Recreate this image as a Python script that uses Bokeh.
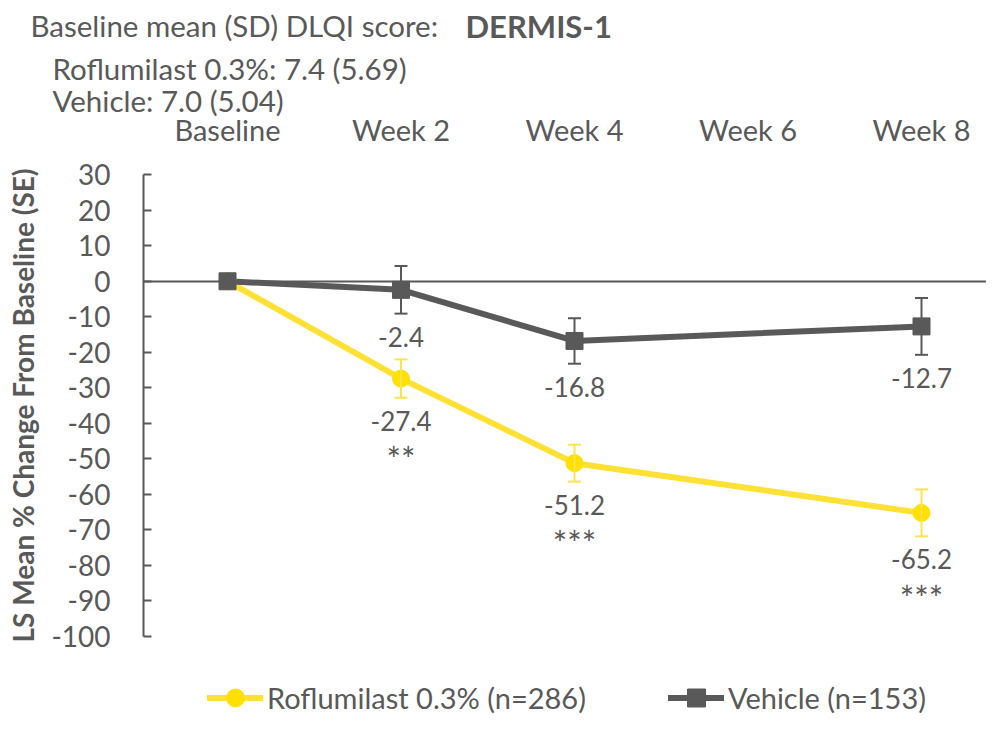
from bokeh.plotting import figure
from bokeh.models import (ColumnDataSource, FixedTicker, Label, Legend,
                          LegendItem, Whisker, TeeHead, Range1d, LinearAxis)
from bokeh.core.properties import value
from bokeh.embed import file_html
from bokeh.resources import INLINE

# ---------------- data ----------------
weeks = [0, 2, 4, 8]
roflumilast = [0.0, -27.4, -51.2, -65.2]
roflumilast_se = [0.0, 5.4, 5.2, 6.6]
roflumilast_sig = ["", "**", "***", "***"]
vehicle = [0.0, -2.4, -16.8, -12.7]
vehicle_se = [0.0, 6.7, 6.4, 8.0]
week_ticks = [0, 2, 4, 6, 8]
week_labels = ["Baseline", "Week 2", "Week 4", "Week 6", "Week 8"]
y_ticks = [30, 20, 10, 0, -10, -20, -30, -40, -50, -60, -70, -80, -90, -100]
y_tick_labels = ["30", "20", "10", "0", "-10", "-20", "-30", "-40", "-50",
                 "-60", "-70", "-80", "-90", "-100"]
y_bounds = (-100, 30)
rof_name = "Roflumilast 0.3% (n=286)"
veh_name = "Vehicle (n=153)"
header_1 = "Baseline mean (SD) DLQI score:"
header_study = "DERMIS-1"
header_2 = "Roflumilast 0.3%: 7.4 (5.69)"
header_3 = "Vehicle: 7.0 (5.04)"
y_title = "LS Mean % Change From Baseline (SE)"

# ---------------- style / layout ----------------
GRAY = "#595959"
YEL = "#FFE000"
YEL_LINE = "#FFE135"
YEL_ERR = "#FFE34D"
FONT = "Lato"

W, H = 986, 715
PX_PER_WEEK = 86.75
PX_PER_UNIT = 3.552
X_BASE = 227            # pixel x of week 0
Y_ZERO = 280.8          # pixel y of value 0
AXIS_PX = 143           # pixel x of the y axis line

X0 = -X_BASE / PX_PER_WEEK
X1 = X0 + W / PX_PER_WEEK
Y1 = Y_ZERO / PX_PER_UNIT
Y0 = Y1 - H / PX_PER_UNIT


def px_x(x):
    return X0 + x / PX_PER_WEEK


def px_y(y):
    return Y1 - y / PX_PER_UNIT


p = figure(width=W, height=H, output_backend="svg", toolbar_location=None,
           x_range=Range1d(X0, X1), y_range=Range1d(Y0, Y1),
           x_axis_location="above", min_border_left=0, min_border_top=0,
           min_border_bottom=0, min_border_right=0)
p.outline_line_color = None
p.grid.visible = False
p.background_fill_color = "white"
p.border_fill_color = "white"

# top category axis
xa = p.xaxis[0]
xa.fixed_location = px_y(156)
xa.ticker = FixedTicker(ticks=week_ticks)
xa.major_label_overrides = {t: l for t, l in zip(week_ticks, week_labels)}
xa.axis_line_color = None
xa.major_tick_line_color = None
xa.minor_tick_line_color = None
xa.major_label_standoff = 4
xa.major_label_text_font = FONT
xa.major_label_text_font_size = "29px"
xa.major_label_text_color = GRAY

# horizontal axis line through 0
x0axis = LinearAxis(fixed_location=0, bounds=(px_x(AXIS_PX), X1),
                    ticker=FixedTicker(ticks=[]), axis_line_color=GRAY,
                    axis_line_width=2, major_tick_line_color=None,
                    minor_tick_line_color=None, major_label_text_font_size="0px")
p.add_layout(x0axis, "below")

# y axis
ya = p.yaxis[0]
ya.fixed_location = px_x(AXIS_PX)
ya.bounds = y_bounds
ya.ticker = FixedTicker(ticks=y_ticks)
ya.major_label_overrides = {t: l for t, l in zip(y_ticks, y_tick_labels)}
ya.axis_line_color = GRAY
ya.axis_line_width = 2
ya.major_tick_line_color = GRAY
ya.major_tick_line_width = 2
ya.major_tick_in = 8
ya.major_tick_out = 0
ya.minor_tick_line_color = None
ya.major_label_standoff = 33
ya.major_label_text_font = FONT
ya.major_label_text_font_size = "28px"
ya.major_label_text_color = GRAY
ya.axis_label = y_title
ya.axis_label_text_font = FONT
ya.axis_label_text_font_size = "28px"
ya.axis_label_text_font_style = "bold"
ya.axis_label_text_color = GRAY
ya.axis_label_standoff = 8

# sources
rof_src = ColumnDataSource(dict(x=weeks, y=roflumilast))
veh_src = ColumnDataSource(dict(x=weeks, y=vehicle))

idx = [i for i, s in enumerate(roflumilast_se) if s > 0]
rof_err = ColumnDataSource(dict(
    x=[weeks[i] for i in idx],
    upper=[roflumilast[i] + roflumilast_se[i] for i in idx],
    lower=[roflumilast[i] - roflumilast_se[i] for i in idx],
    label=["%.1f" % roflumilast[i] for i in idx],
    sig=[roflumilast_sig[i] for i in idx]))
idx_v = [i for i, s in enumerate(vehicle_se) if s > 0]
veh_err = ColumnDataSource(dict(
    x=[weeks[i] for i in idx_v],
    upper=[vehicle[i] + vehicle_se[i] for i in idx_v],
    lower=[vehicle[i] - vehicle_se[i] for i in idx_v],
    label=["%.1f" % vehicle[i] for i in idx_v]))

# lines
rl = p.line("x", "y", source=rof_src, line_color=YEL_LINE, line_width=6,
            line_cap="round")
vl = p.line("x", "y", source=veh_src, line_color=GRAY, line_width=6,
            line_cap="round")

for src, col in ((rof_err, YEL_ERR), (veh_err, GRAY)):
    p.add_layout(Whisker(base="x", upper="upper", lower="lower", source=src,
                         line_color=col, line_width=2, level="glyph",
                         upper_head=TeeHead(size=13, line_color=col, line_width=2),
                         lower_head=TeeHead(size=13, line_color=col, line_width=2)))

rs = p.scatter("x", "y", source=rof_src, marker="circle", size=17,
               fill_color=YEL, line_color=YEL)
vs = p.scatter("x", "y", source=veh_src, marker="square", size=17,
               fill_color=GRAY, line_color=GRAY)

# data labels below the error bars
for src in (rof_err, veh_err):
    p.text("x", "lower", text="label", source=src, y_offset=23,
           text_align="center", text_baseline="middle",
           text_font=value(FONT), text_font_size="26px", text_color=GRAY)
p.text("x", "lower", text="sig", source=rof_err, y_offset=61,
       text_align="center", text_baseline="middle",
       text_font=value(FONT), text_font_size="34px", text_color=GRAY)

# header texts (pixel positions converted to data space)
for txt, pxx, pyy, style, fs in ((header_1, 30, 25, "normal", "29.5px"),
                                 (header_study, 465, 25, "bold", "31px"),
                                 (header_2, 52, 68, "normal", "29.5px"),
                                 (header_3, 52, 100, "normal", "29.5px")):
    p.add_layout(Label(x=px_x(pxx), y=px_y(pyy), text=txt, text_font=FONT,
                       text_font_size=fs, text_font_style=style,
                       text_color=GRAY, text_baseline="middle"))

legend = Legend(items=[LegendItem(label=rof_name, renderers=[rl, rs]),
                       LegendItem(label=veh_name, renderers=[vl, vs])],
                orientation="horizontal", location=(207, -5),
                glyph_width=56, glyph_height=45, label_height=45,
                label_standoff=4, spacing=82, padding=0, margin=0,
                border_line_color=None, background_fill_alpha=0,
                label_text_font=FONT, label_text_font_size="29px",
                label_text_color=GRAY)
p.add_layout(legend, "center")

open("out.html", "w").write(file_html(p, INLINE))
